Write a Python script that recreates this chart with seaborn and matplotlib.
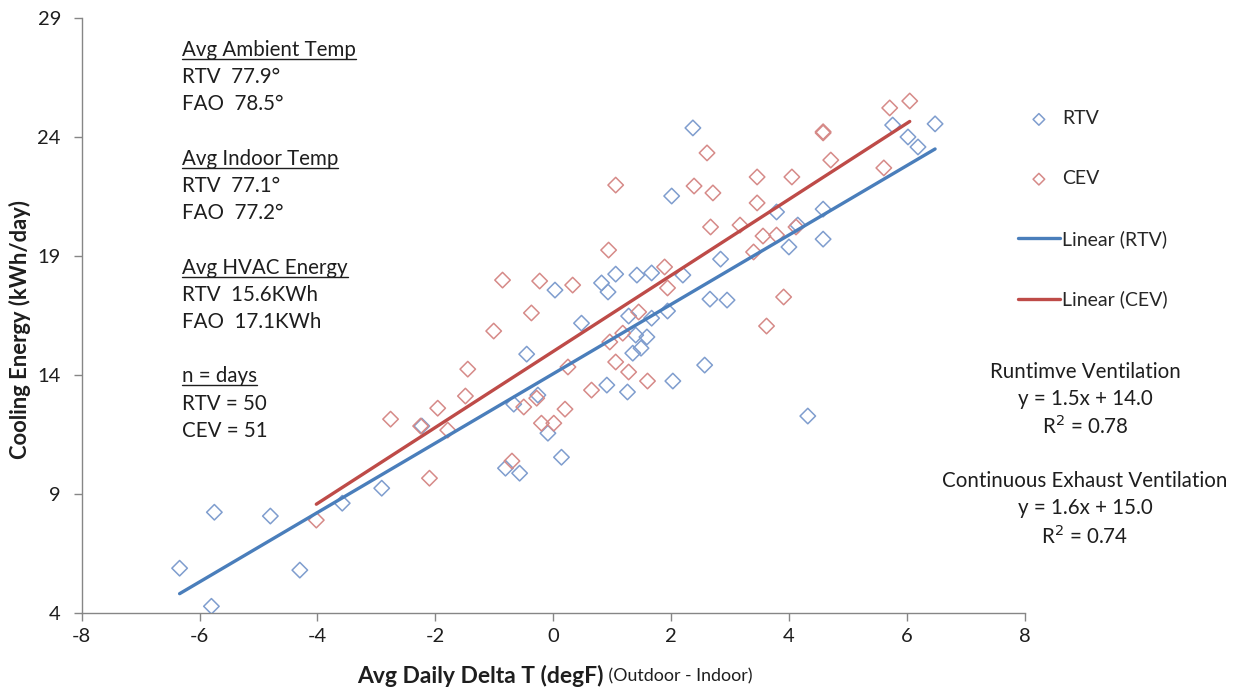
import numpy as np
import seaborn as sns
import matplotlib.pyplot as plt
from matplotlib.lines import Line2D

# Data
rtv_x = [-6.34, -5.80, -5.75, -4.80, -4.30, -3.58, -2.91, -2.23, -0.81, -0.57,
         -0.45, -0.67, -0.26, -0.09, 0.14, 0.03, 0.48, 0.82, 0.93, 0.91,
         1.06, 1.28, 1.26, 1.35, 1.49, 1.40, 1.59, 1.67, 1.42, 1.67,
         1.94, 2.03, 2.01, 2.20, 2.37, 2.57, 2.66, 2.95, 2.84, 3.79,
         4.00, 4.15, 4.58, 4.58, 4.32, 5.76, 6.02, 6.19, 6.48]
rtv_y = [5.89, 4.29, 8.24, 8.08, 5.81, 8.62, 9.25, 11.86, 10.09, 9.88,
         14.88, 12.78, 13.16, 11.56, 10.55, 17.57, 16.18, 17.87, 17.49, 13.58,
         18.24, 16.48, 13.29, 14.92, 15.13, 15.68, 15.60, 16.39, 18.20, 18.29,
         16.69, 13.75, 21.52, 18.20, 24.38, 14.42, 17.19, 17.15, 18.87, 20.85,
         19.38, 20.30, 20.97, 19.71, 12.28, 24.50, 24.00, 23.58, 24.55]

cev_x = [-4.02, -2.76, -2.25, -1.96, -2.10, -1.79, -1.49, -1.45, -1.01, -0.86,
         -0.70, -0.50, -0.37, -0.28, -0.23, -0.20, 0.01, 0.20, 0.25, 0.33,
         0.65, 0.94, 0.96, 1.06, 1.06, 1.18, 1.28, 1.45, 1.60, 1.89,
         1.94, 2.39, 2.61, 2.71, 2.67, 3.17, 3.40, 3.46, 3.46, 3.56,
         3.79, 3.62, 3.91, 4.05, 4.12, 4.58, 4.58, 4.71, 5.61, 5.71, 6.05]
cev_y = [7.91, 12.15, 11.86, 12.61, 9.67, 11.69, 13.12, 14.25, 15.85, 17.99,
         10.39, 12.66, 16.61, 13.03, 17.95, 11.98, 11.98, 12.57, 14.34, 17.78,
         13.37, 19.25, 15.39, 14.55, 21.98, 15.76, 14.13, 16.65, 13.75, 18.54,
         17.66, 21.94, 23.33, 21.65, 20.22, 20.30, 19.17, 22.32, 21.23, 19.84,
         19.88, 16.06, 17.28, 22.32, 20.22, 24.17, 24.22, 23.03, 22.70, 25.22, 25.51]

x_ticks = [-8, -6, -4, -2, 0, 2, 4, 6, 8]
y_ticks = [4, 9, 14, 19, 24, 29]

info_lines = [
    ("Avg Ambient Temp", True), ("RTV  77.9°", False), ("FAO  78.5°", False), ("", False),
    ("Avg Indoor Temp", True), ("RTV  77.1°", False), ("FAO  77.2°", False), ("", False),
    ("Avg HVAC Energy", True), ("RTV  15.6KWh", False), ("FAO  17.1KWh", False), ("", False),
    ("n = days", True), ("RTV = 50", False), ("CEV = 51", False),
]
fit_text = ["Runtimve Ventilation", "y = 1.5x + 14.0", "R$^2$ = 0.78", "",
            "Continuous Exhaust Ventilation", "y = 1.6x + 15.0", "R$^2$ = 0.74"]

sns.set_style("white")
plt.rcParams['font.family'] = ['Lato', 'DejaVu Sans']

blue_pt = '#7f9dce'
red_pt = '#d68a88'
blue_ln = '#4a7ebb'
red_ln = '#be4b48'
txt_col = '#1e1e1e'

fig = plt.figure(figsize=(12.39, 6.89), dpi=100)
ax = fig.add_axes([0.066, 0.110, 0.761, 0.864])

sns.scatterplot(x=rtv_x, y=rtv_y, marker='D', s=62, facecolor='none',
                edgecolor=blue_pt, linewidth=1.1, label='RTV', ax=ax, zorder=3)
sns.scatterplot(x=cev_x, y=cev_y, marker='D', s=62, facecolor='none',
                edgecolor=red_pt, linewidth=1.1, label='CEV', ax=ax, zorder=3)
sns.regplot(x=rtv_x, y=rtv_y, scatter=False, ci=None, ax=ax, label='Linear (RTV)',
            line_kws={'color': blue_ln, 'lw': 2.4, 'zorder': 4})
sns.regplot(x=cev_x, y=cev_y, scatter=False, ci=None, ax=ax, label='Linear (CEV)',
            line_kws={'color': red_ln, 'lw': 2.4, 'zorder': 4})

ax.set_xlim(-8, 8)
ax.set_ylim(4, 29)
ax.set_xticks(x_ticks)
ax.set_yticks(y_ticks)
ax.set_xticklabels([str(t) for t in x_ticks])
ax.set_yticklabels([str(t) for t in y_ticks])
ax.tick_params(axis='both', direction='out', length=6, width=1, color='#868686',
               labelsize=14.5, labelcolor=txt_col, left=True, bottom=True)
ax.tick_params(axis='y', pad=9)
ax.tick_params(axis='x', pad=5)
for side in ['top', 'right']:
    ax.spines[side].set_visible(False)
for side in ['left', 'bottom']:
    ax.spines[side].set_color('#868686')
    ax.spines[side].set_linewidth(1)
ax.set_xlabel('')
ax.set_ylabel('')

# legend outside the axes
handles, labels = ax.get_legend_handles_labels()
order = ['RTV', 'CEV', 'Linear (RTV)', 'Linear (CEV)']
hmap = dict(zip(labels, handles))
if ax.get_legend():
    ax.get_legend().remove()
fig.legend([hmap[l] for l in order], order, loc='upper left',
           bbox_to_anchor=(1000 / 1239, 1 - 93 / 689), frameon=False,
           fontsize=14, labelspacing=2.2, handlelength=2.2, handletextpad=0.1,
           markerscale=0.75)

# axis labels (bold part + normal part)
fig.text(604 / 1239, 1 - 676 / 689, 'Avg Daily Delta T (degF)', ha='right', va='center',
         fontsize=16.5, fontweight='bold', color=txt_col)
fig.text(604 / 1239, 1 - 676 / 689, ' (Outdoor - Indoor)', ha='left', va='center',
         fontsize=12.8, color=txt_col)
fig.text(20 / 1239, 1 - 330 / 689, 'Cooling Energy (kWh/day)', rotation=90,
         ha='center', va='center', fontsize=15.8, fontweight='bold', color=txt_col)

# left info block
info_artists = []
for i, (txt, head) in enumerate(info_lines):
    if not txt:
        continue
    t = fig.text(182 / 1239, 1 - (50 + i * 27.2) / 689, txt, ha='left', va='center',
                 fontsize=14.8, color=txt_col)
    if head:
        info_artists.append(t)

# right fit equations
for i, txt in enumerate(fit_text):
    if not txt:
        continue
    fig.text(1085 / 1239, 1 - (372 + i * 27.3) / 689, txt, ha='center', va='center',
             fontsize=14.8, color=txt_col)

# underline headers
fig.canvas.draw()
r = fig.canvas.get_renderer()
for t in info_artists:
    bb = t.get_window_extent(renderer=r)
    y = bb.y0 + 1
    fig.add_artist(Line2D([bb.x0 / fig.bbox.width, bb.x1 / fig.bbox.width],
                          [y / fig.bbox.height, y / fig.bbox.height],
                          transform=fig.transFigure, color=txt_col, lw=1))

fig.savefig('out.png', dpi=100)
